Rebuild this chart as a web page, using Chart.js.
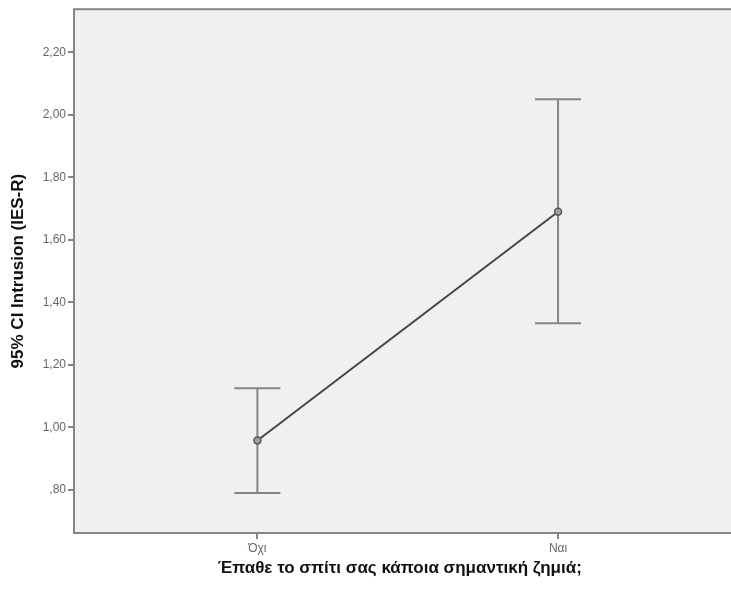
<!DOCTYPE html>
<html>
<head>
<meta charset="utf-8">
<script src="https://cdn.jsdelivr.net/npm/chart.js@4.4.0/dist/chart.umd.min.js"></script>
<style>
  html, body { margin: 0; padding: 0; background: #fff; }
  #wrap { width: 731px; height: 590px; position: relative; }
</style>
</head>
<body>
<div id="wrap"><canvas id="myChart"></canvas></div>
<script>
'use strict';

// data
let categories = ['Όχι', 'Ναι'];
let means = [0.958, 1.69];
let lowerCI = [0.79, 1.333];
let upperCI = [1.125, 2.05];
let yTickValues = [0.8, 1.0, 1.2, 1.4, 1.6, 1.8, 2.0, 2.2];
let yTickLabels = [',80', '1,00', '1,20', '1,40', '1,60', '1,80', '2,00', '2,20'];

let points = [];
for (let i = 0; i < categories.length; i++) {
  points.push({ x: i, y: means[i] });
}

// plot frame + grey background
const framePlugin = {
  id: 'frame',
  beforeDraw(chart) {
    const a = chart.chartArea;
    const ctx = chart.ctx;
    ctx.save();
    ctx.fillStyle = '#f0f0f0';
    ctx.fillRect(a.left, a.top, chart.width - a.left, a.bottom - a.top);
    ctx.restore();
  },
  afterDraw(chart) {
    const a = chart.chartArea;
    const ctx = chart.ctx;
    ctx.save();
    ctx.strokeStyle = '#858585';
    ctx.lineWidth = 2;
    ctx.strokeRect(a.left, a.top, chart.width - a.left + 20, a.bottom - a.top);
    ctx.restore();
  }
};

// error bars through the scales
const errorBarPlugin = {
  id: 'errorBars',
  beforeDatasetsDraw(chart) {
    const ctx = chart.ctx;
    const xs = chart.scales.x;
    const ys = chart.scales.y;
    ctx.save();
    ctx.strokeStyle = '#858585';
    ctx.lineWidth = 2;
    for (let i = 0; i < categories.length; i++) {
      let x = xs.getPixelForValue(i);
      let yLo = ys.getPixelForValue(lowerCI[i]);
      let yHi = ys.getPixelForValue(upperCI[i]);
      ctx.beginPath();
      ctx.moveTo(x, yLo);
      ctx.lineTo(x, yHi);
      ctx.moveTo(x - 23, yLo);
      ctx.lineTo(x + 23, yLo);
      ctx.moveTo(x - 23, yHi);
      ctx.lineTo(x + 23, yHi);
      ctx.stroke();
    }
    ctx.restore();
  }
};

const data = {
  datasets: [
    {
      label: 'Mean',
      data: points,
      showLine: true,
      borderColor: '#454545',
      borderWidth: 2,
      pointRadius: 3.5,
      pointBorderWidth: 1.5,
      pointBorderColor: '#555555',
      pointBackgroundColor: '#a0a0a0'
    }
  ]
};

const config = {
  type: 'scatter',
  data: data,
  options: {
    responsive: true,
    maintainAspectRatio: false,
    animation: false,
    layout: { padding: { top: 8, right: -6, left: 0, bottom: 0 } },
    plugins: {
      legend: { display: false },
      tooltip: { enabled: false }
    },
    scales: {
      x: {
        type: 'linear',
        min: -0.61,
        max: 1.557,
        afterBuildTicks(scale) {
          scale.ticks = categories.map((c, i) => ({ value: i }));
        },
        afterFit(scale) {
          scale.height = 57;
        },
        ticks: {
          color: '#666',
          font: { family: 'Liberation Sans, Arial', size: 12 },
          padding: 2,
          maxRotation: 0,
          callback: (v) => categories[v]
        },
        grid: {
          drawOnChartArea: false,
          drawTicks: true,
          tickLength: 6,
          color: '#858585',
          lineWidth: 2
        },
        border: { display: false },
        title: {
          display: true,
          text: 'Έπαθε το σπίτι σας κάποια σημαντική ζημιά;',
          color: '#111',
          font: { family: 'Liberation Sans, Arial', size: 17, weight: 'bold' },
          padding: { top: 4, bottom: 11 }
        }
      },
      y: {
        type: 'linear',
        min: 0.662,
        max: 2.338,
        afterBuildTicks(scale) {
          scale.ticks = yTickValues.map(v => ({ value: v }));
        },
        afterFit(scale) {
          scale.width = 74;
        },
        ticks: {
          color: '#666',
          font: { family: 'Liberation Sans, Arial', size: 12 },
          padding: 2,
          callback: (v) => yTickLabels[yTickValues.findIndex(t => Math.abs(t - v) < 1e-6)]
        },
        grid: {
          drawOnChartArea: false,
          drawTicks: true,
          tickLength: 6,
          color: '#858585',
          lineWidth: 2
        },
        border: { display: false },
        title: {
          display: true,
          text: '95% CI Intrusion (IES-R)',
          color: '#111',
          font: { family: 'Liberation Sans, Arial', size: 17, weight: 'bold' },
          padding: { top: 8, bottom: 4 }
        }
      }
    }
  },
  plugins: [framePlugin, errorBarPlugin]
};

const myChart = new Chart(document.getElementById('myChart'), config);
</script>
</body>
</html>
